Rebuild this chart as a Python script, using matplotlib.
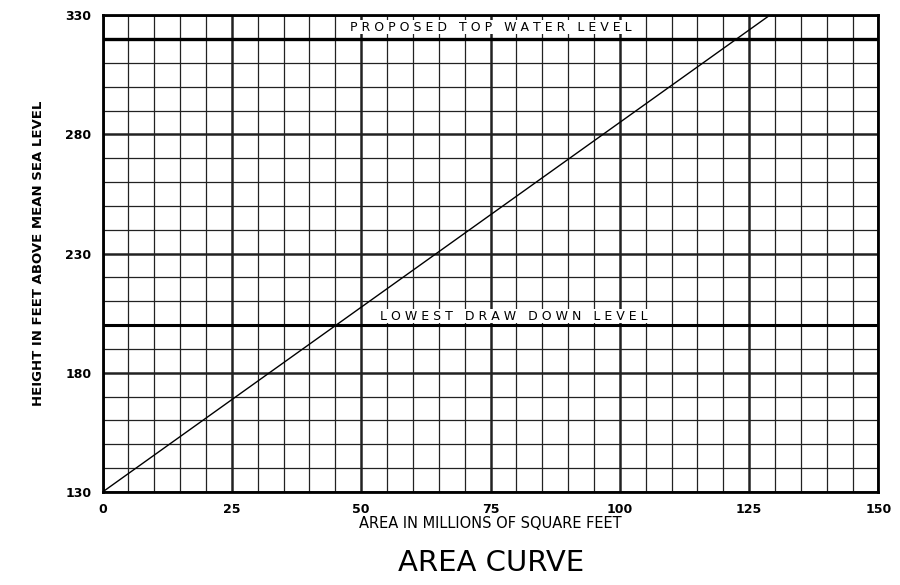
import numpy as np
import matplotlib.pyplot as plt

# area curve
area = [0, 129]
height = [130, 330]

x_ticks = [0, 25, 50, 75, 100, 125, 150]
y_ticks = [130, 180, 230, 280, 330]

top_level = 320
low_level = 200

fig = plt.figure(figsize=(9, 5.85), dpi=100)
ax = fig.add_axes([0.114, 0.159, 0.862, 0.815])

# minor grid every 5 across, every 10 up
for xv in np.arange(0, 151, 5):
    lw = 1.8 if xv % 25 == 0 else 0.9
    ax.axvline(xv, color='#222222', lw=lw, zorder=1)
for yv in np.arange(130, 331, 10):
    lw = 1.8 if (yv - 130) % 50 == 0 else 0.9
    ax.axhline(yv, color='#222222', lw=lw, zorder=1)

ax.axhline(top_level, color='black', lw=2.4, zorder=2)
ax.axhline(low_level, color='black', lw=2.2, zorder=2)

ax.plot(area, height, color='black', lw=1.0, zorder=3)

ax.text(75, 325, 'P R O P O S E D   T O P   W A T E R   L E V E L',
        ha='center', va='center', fontsize=9, color='black',
        bbox=dict(facecolor='white', edgecolor='none', pad=0.3), zorder=4)
ax.text(79.5, 203.8, 'L O W E S T   D R A W   D O W N   L E V E L',
        ha='center', va='center', fontsize=9, color='black',
        bbox=dict(facecolor='white', edgecolor='none', pad=0.3), zorder=4)

ax.set_xlim(0, 150)
ax.set_ylim(130, 330)
ax.set_xticks(x_ticks)
ax.set_yticks(y_ticks)
ax.tick_params(length=0, labelsize=9, pad=8)
for lab in ax.get_xticklabels() + ax.get_yticklabels():
    lab.set_fontweight('bold')
for s in ax.spines.values():
    s.set_linewidth(2)

ax.set_xlabel('AREA IN MILLIONS OF SQUARE FEET', fontsize=10.5, labelpad=0)
ax.set_ylabel('HEIGHT IN FEET ABOVE MEAN SEA LEVEL', fontsize=9.5,
              fontweight='bold', labelpad=15)

fig.text(0.546, 0.037, 'AREA CURVE', ha='center', va='center', fontsize=21,
         family=['Liberation Sans Narrow', 'DejaVu Sans'])

plt.savefig('out.png', dpi=100)
